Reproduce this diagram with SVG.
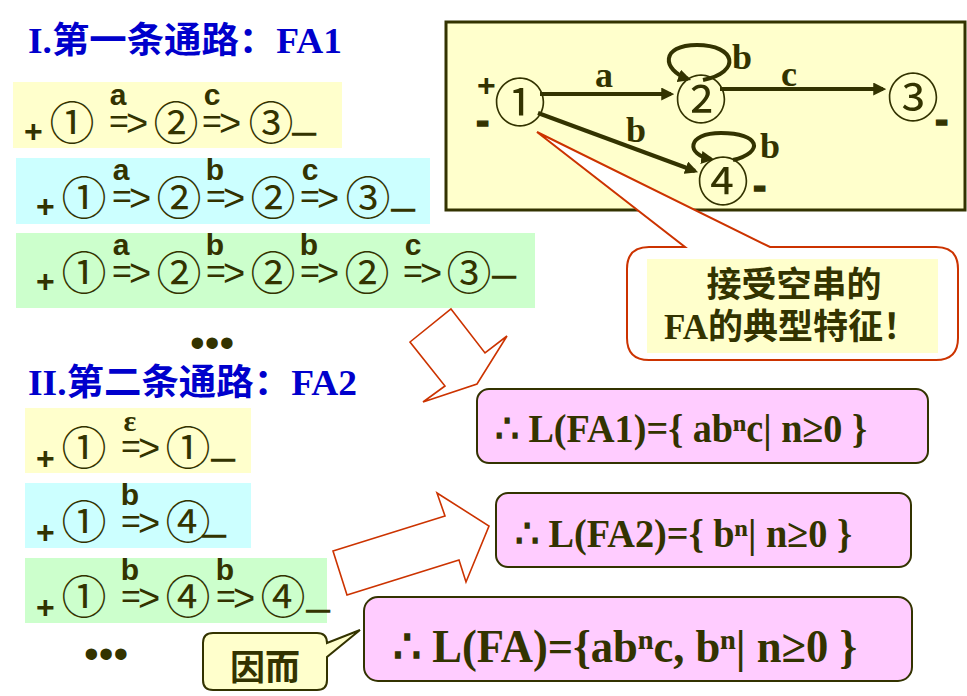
<svg xmlns="http://www.w3.org/2000/svg" width="967" height="696" viewBox="0 0 967 696">
<defs>
<marker id="ah" viewBox="0 0 12 12" refX="9" refY="6" markerWidth="13" markerHeight="13" markerUnits="userSpaceOnUse" orient="auto"><path d="M0,0 L12,6 L0,12 z" fill="#333300"/></marker>
<style>
.title{font-family:"Liberation Serif","Noto Sans CJK SC",serif;font-weight:bold;font-size:36px;fill:#0000CC}
.ci{font-family:"Noto Sans CJK SC",sans-serif;font-size:45px;fill:#333300;text-anchor:middle}
.lt{font-family:"Liberation Sans",Arial,sans-serif;font-weight:bold;font-size:30px;fill:#333300;text-anchor:middle}
.eq{font-family:"Liberation Sans",Arial,sans-serif;font-size:34px;fill:#333300}
.gt{font-family:"Liberation Sans",Arial,sans-serif;font-size:38px;fill:#333300}
.pl{font-family:"Liberation Sans",Arial,sans-serif;font-weight:bold;font-size:32px;fill:#333300}
.us{font-family:"Liberation Sans",Arial,sans-serif;font-weight:bold;font-size:40px;fill:#333300;stroke:#333300;stroke-width:1.4}
.dots{font-family:"Liberation Sans",Arial,sans-serif;font-size:42px;fill:#333300}
.y{fill:#FFFFCC}.c{fill:#CCFFFF}.g{fill:#CCFFCC}
.pink{fill:#FFCCFF;stroke:#333300;stroke-width:2}
.form{font-family:"Liberation Serif","DejaVu Serif",serif;font-weight:bold;fill:#333300}
.dlab{font-family:"Liberation Serif",serif;font-weight:bold;font-size:36px;fill:#333300;text-anchor:middle}
.dci{font-family:"Noto Sans CJK SC",sans-serif;font-size:52px;fill:#333300;text-anchor:middle}
.edge{fill:none;stroke:#333300;stroke-width:4}
.red{fill:#FFFFFF;stroke:#CC3300;stroke-width:1.6}
.cj{font-family:"Liberation Serif","Noto Sans CJK SC",sans-serif;font-weight:bold;font-size:35px;fill:#333300;text-anchor:middle}
</style>
</defs>
<rect width="967" height="696" fill="#FFFFFF"/>

<g id="title1"><text class="title" x="28" y="53" textLength="314" lengthAdjust="spacingAndGlyphs">I.第一条通路：FA1</text></g>

<g id="row1">
<rect class="y" x="13" y="82" width="329" height="66"/>
<text class="pl" x="24" y="142">+</text>
<text class="ci" x="72" y="140">①</text>
<text class="lt" x="118" y="105">a</text>
<text class="eq" x="109" y="133">=</text><text class="gt" x="126" y="136">&gt;</text>
<text class="ci" x="176" y="140">②</text>
<text class="lt" x="212" y="105">c</text>
<text class="eq" x="202" y="133">=</text><text class="gt" x="219" y="136">&gt;</text>
<text class="ci" x="271" y="140">③</text>
<text class="us" x="293" y="130">_</text>
</g>

<g id="row2">
<rect class="c" x="16" y="158" width="414" height="66"/>
<text class="pl" x="36" y="217">+</text>
<text class="ci" x="84" y="215">①</text>
<text class="lt" x="121" y="180">a</text>
<text class="eq" x="112" y="208">=</text><text class="gt" x="129" y="211">&gt;</text>
<text class="ci" x="179" y="215">②</text>
<text class="lt" x="215" y="180">b</text>
<text class="eq" x="206" y="208">=</text><text class="gt" x="223" y="211">&gt;</text>
<text class="ci" x="273" y="215">②</text>
<text class="lt" x="310" y="180">c</text>
<text class="eq" x="300" y="208">=</text><text class="gt" x="317" y="211">&gt;</text>
<text class="ci" x="368" y="215">③</text>
<text class="us" x="392" y="206">_</text>
</g>

<g id="row3">
<rect class="g" x="16" y="233" width="519" height="75"/>
<text class="pl" x="36" y="292">+</text>
<text class="ci" x="84" y="290">①</text>
<text class="lt" x="121" y="255">a</text>
<text class="eq" x="112" y="283">=</text><text class="gt" x="129" y="286">&gt;</text>
<text class="ci" x="179" y="290">②</text>
<text class="lt" x="215" y="255">b</text>
<text class="eq" x="206" y="283">=</text><text class="gt" x="223" y="286">&gt;</text>
<text class="ci" x="273" y="290">②</text>
<text class="lt" x="309" y="255">b</text>
<text class="eq" x="300" y="283">=</text><text class="gt" x="317" y="286">&gt;</text>
<text class="ci" x="367" y="290">②</text>
<text class="lt" x="413" y="255">c</text>
<text class="eq" x="403" y="283">=</text><text class="gt" x="420" y="286">&gt;</text>
<text class="ci" x="469" y="290">③</text>
<text class="us" x="493" y="273">_</text>
</g>

<g id="dots1"><text class="dots" x="190" y="357">•••</text></g>

<g id="title2"><text class="title" x="28" y="395" textLength="329" lengthAdjust="spacingAndGlyphs">II.第二条通路：FA2</text></g>

<g id="rowA">
<rect class="y" x="25" y="408" width="226" height="65"/>
<text class="pl" x="36" y="469">+</text>
<text class="ci" x="84" y="465">①</text>
<text class="form" x="130" y="431" font-size="30" text-anchor="middle">ε</text>
<text class="eq" x="121" y="458">=</text><text class="gt" x="138" y="461">&gt;</text>
<text class="ci" x="188" y="465">①</text>
<text class="us" x="212" y="456">_</text>
</g>

<g id="rowB">
<rect class="c" x="25" y="483" width="226" height="65"/>
<text class="pl" x="36" y="543">+</text>
<text class="ci" x="84" y="539">①</text>
<text class="lt" x="130" y="505">b</text>
<text class="eq" x="121" y="533">=</text><text class="gt" x="138" y="536">&gt;</text>
<text class="ci" x="188" y="539">④</text>
<text class="us" x="203" y="532">_</text>
</g>

<g id="rowC">
<rect class="g" x="25" y="558" width="302" height="65"/>
<text class="pl" x="36" y="618">+</text>
<text class="ci" x="84" y="614">①</text>
<text class="lt" x="130" y="580">b</text>
<text class="eq" x="121" y="608">=</text><text class="gt" x="138" y="611">&gt;</text>
<text class="ci" x="188" y="614">④</text>
<text class="lt" x="225" y="580">b</text>
<text class="eq" x="216" y="608">=</text><text class="gt" x="233" y="611">&gt;</text>
<text class="ci" x="283" y="614">④</text>
<text class="us" x="307" y="607">_</text>
</g>

<g id="dots2"><text class="dots" x="84" y="668">•••</text></g>

<g id="fa-box"><rect x="446" y="22" width="519" height="188" fill="#FFFFCC" stroke="#333300" stroke-width="3"/></g>

<g id="connectors">
<path class="edge" d="M540,94 L671,94" marker-end="url(#ah)"/>
<path class="edge" d="M720,89 L883,89" marker-end="url(#ah)"/>
<path class="edge" d="M538,113 L695,171" marker-end="url(#ah)"/>
<path class="edge" d="M703,80 C742,72 736,45 697,45 C660,45 662,70 688,79" marker-end="url(#ah)"/>
<path class="edge" d="M733,160 C765,152 760,133 721,133 C686,133 686,155 711,159" marker-end="url(#ah)"/>
<text class="dlab" x="604" y="87">a</text>
<text class="dlab" x="789" y="86">c</text>
<text class="dlab" x="742" y="69">b</text>
<text class="dlab" x="636" y="142">b</text>
<text class="dlab" x="770" y="158">b</text>
<polygon class="red" points="451,309 485,353 507,336 477,384 423,402 445,386 410,342"/>
<polygon class="red" points="333,551 445,516 437,493 489,526 466,582 459,560 347,595"/>
</g>

<g id="node1">
<text class="pl" x="477" y="96" font-size="30">+</text>
<text class="dci" x="520" y="122">①</text>
<text class="us" x="476" y="134" font-size="44">-</text>
</g>
<g id="node2"><text class="dci" x="701" y="119">②</text></g>
<g id="node3">
<text class="dci" x="913" y="117">③</text>
<text class="us" x="935" y="133" font-size="40">-</text>
</g>
<g id="node4">
<text class="dci" x="723" y="201">④</text>
<text class="us" x="753" y="199" font-size="32">-</text>
</g>

<g id="callout1">
<path d="M649,247 L685,247 L537,132 L770,247 L936,247 Q958,247 958,269 L958,338 Q958,360 936,360 L649,360 Q627,360 627,338 L627,269 Q627,247 649,247 Z" fill="#FFFFFF" stroke="#CC3300" stroke-width="2"/>
<rect x="647" y="259" width="291" height="94" fill="#FFFFCC"/>
<text class="cj" x="794" y="297">接受空串的</text>
<text class="cj" x="791" y="339">FA的典型特征！</text>
</g>

<g id="fa1">
<rect class="pink" x="477" y="389" width="451" height="74" rx="12"/>
<text class="form" x="495" y="442" font-size="40" textLength="372" lengthAdjust="spacingAndGlyphs">∴ L(FA1)={ abⁿc| n≥0 }</text>
</g>

<g id="fa2">
<rect class="pink" x="496" y="493" width="415" height="74" rx="12"/>
<text class="form" x="515" y="547" font-size="40" textLength="337" lengthAdjust="spacingAndGlyphs">∴ L(FA2)={ bⁿ| n≥0 }</text>
</g>

<g id="fa">
<rect class="pink" x="364" y="597" width="548" height="84" rx="14"/>
<text class="form" x="393" y="662" font-size="46" textLength="464" lengthAdjust="spacingAndGlyphs">∴ L(FA)={abⁿc, bⁿ| n≥0 }</text>
</g>

<g id="callout2">
<path d="M213,633 L317,633 Q327,633 327,643 L360,630 L327,657 L327,680 Q327,690 317,690 L213,690 Q203,690 203,680 L203,643 Q203,633 213,633 Z" fill="#FFFFCC" stroke="#333300" stroke-width="2"/>
<text class="cj" x="265" y="680" font-size="33">因而</text>
</g>
</svg>
